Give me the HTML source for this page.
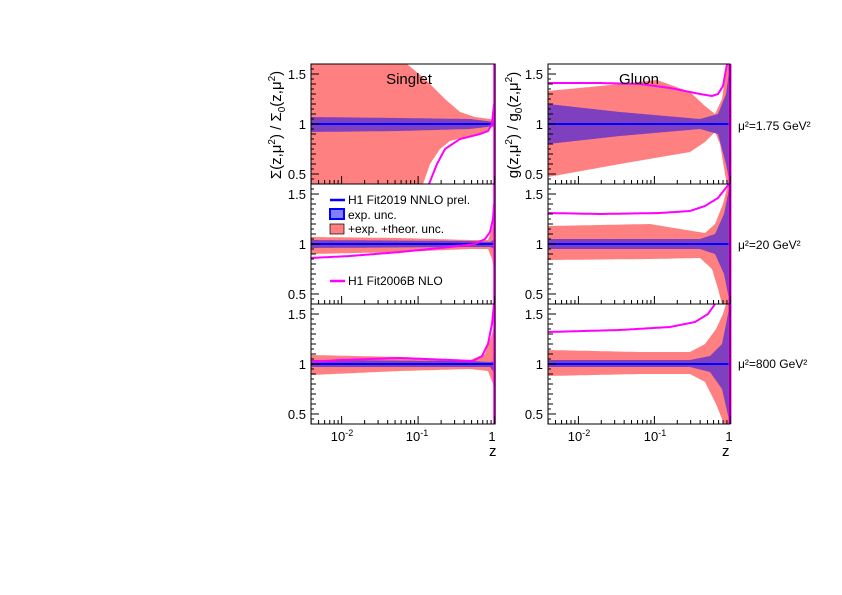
<!DOCTYPE html>
<html><head><meta charset="utf-8"><style>
body{margin:0;background:#fff}
svg{display:block;font-family:"Liberation Sans",sans-serif}
</style></head><body>
<svg id="s" width="842" height="595" xmlns="http://www.w3.org/2000/svg"></svg>
<script>
const S=document.getElementById('s');
let h='';
const RED='#ff8080',BLU='#7f40c0';
function Y(top,v){v=Math.max(0.4,Math.min(1.6,v));return top+(1.6-v)*100;}
function interp(pts,x){ if(x<=pts[0][0])return pts[0][1]; for(let i=1;i<pts.length;i++){if(x<=pts[i][0]){const a=pts[i-1],b=pts[i];return a[1]+(b[1]-a[1])*(x-a[0])/(b[0]-a[0]);}} return pts[pts.length-1][1];}
function band(top,x0,x1,up,lo,col){
  let p=[];for(let x=x0;x<=x1;x+=1)p.push(x+','+Y(top,interp(up,x)).toFixed(1));
  for(let x=x1;x>=x0;x-=1)p.push(x+','+Y(top,interp(lo,x)).toFixed(1));
  h+=`<polygon points="${p.join(' ')}" fill="${col}"/>`;
}
function line(top,pts,col,w,clip){
  let p=[];const x0=pts[0][0],x1=pts[pts.length-1][0];
  for(let x=x0;x<=x1;x+=1)p.push(x+','+Y(top,interp(pts,x)).toFixed(1));
  h+=`<polyline points="${p.join(' ')}" fill="none" stroke="${col}" stroke-width="${w}"/>`;
}
function frame(top,x0,x1,dec){
  h+=`<rect x="${x0}" y="${top}" width="${x1-x0}" height="120" fill="none" stroke="#000" stroke-width="1"/>`;
  // y ticks
  for(let v=0.4;v<=1.601;v+=0.05){const y=Y(top,v);const major=Math.abs((v*10)%5)<0.01||Math.abs((v*10)%5-5)<0.01;const L=Math.abs(Math.round(v*10)-v*10)<0.01?(major?8:5):3;h+=`<line x1="${x0}" x2="${x0+L}" y1="${y}" y2="${y}" stroke="#000"/>`;}
  // x ticks (log)
  for(let d=-3;d<=0;d++)for(let k=1;k<=9;k++){const u=d+Math.log10(k);if(u<-2.4||u>0)continue;const x=x0+(u+2.4)*dec;const L=k==1?8:4;h+=`<line x1="${x}" x2="${x}" y1="${top+120}" y2="${top+120-L}" stroke="#000"/>`;}
}
function ylabels(top,x){
  [[1.5,'1.5'],[1,'1'],[0.5,'0.5']].forEach(([v,t])=>{h+=`<text x="${x}" y="${Y(top,v)+5}" font-size="13" text-anchor="end">${t}</text>`;});
}
const tops=[64,184,304];
const LX0=311,LX1=495,RX0=548,RX1=730;
// ---- Singlet
// top
band(64,LX0,LX1,[[311,1.6],[407,1.6],[425,1.45],[445,1.25],[460,1.12],[475,1.07],[490,1.05],[495,1.04]],[[311,0.4],[423,0.4],[430,0.6],[440,0.75],[450,0.83],[470,0.88],[485,0.92],[492,0.97],[495,0.97]],RED);
band(64,LX0,LX1,[[311,1.07],[400,1.06],[470,1.05],[495,1.02]],[[311,0.92],[400,0.93],[470,0.95],[495,0.98]],BLU);
line(64,[[311,1],[495,1]],'#0000ff',2);
line(64,[[429,0.4],[437,0.6],[445,0.75],[460,0.85],[480,0.9],[488,0.93],[492,1.0],[494,1.2]],'#ff00ff',2);
// mid
band(184,LX0,LX1,[[311,1.07],[400,1.06],[470,1.04],[488,1.04],[492,1.15],[495,1.3]],[[311,0.9],[400,0.92],[470,0.95],[488,0.95],[492,0.85],[495,0.7]],RED);
band(184,LX0,LX1,[[311,1.04],[470,1.03],[490,1.02],[495,1.05]],[[311,0.96],[470,0.97],[490,0.97],[495,0.95]],BLU);
line(184,[[311,1],[495,1]],'#0000ff',2);
line(184,[[311,0.86],[350,0.88],[400,0.92],[450,0.97],[475,1.0],[485,1.05],[490,1.12],[493,1.25],[494,1.4]],'#ff00ff',2);
// bottom
band(304,LX0,LX1,[[311,1.09],[400,1.07],[470,1.04],[485,1.1],[492,1.3],[495,1.4]],[[311,0.89],[400,0.93],[470,0.95],[488,0.93],[493,0.8],[495,0.7]],RED);
band(304,LX0,LX1,[[311,1.04],[470,1.03],[490,1.02],[495,1.03]],[[311,0.97],[470,0.97],[490,0.97],[495,0.9]],BLU);
line(304,[[311,1],[495,1]],'#0000ff',2);
line(304,[[311,1.02],[340,1.04],[400,1.06],[450,1.04],[473,1.03],[482,1.08],[488,1.2],[492,1.4],[494,1.6]],'#ff00ff',2);
// ---- Gluon
band(64,RX0,RX1,[[548,1.33],[600,1.38],[657,1.44],[690,1.32],[705,1.18],[715,1.1],[722,1.25],[727,1.6],[730,1.6]],[[548,0.47],[620,0.6],[690,0.72],[705,0.82],[715,0.92],[720,0.8],[725,0.5],[727,0.4],[730,0.4]],RED);
band(64,RX0,RX1,[[548,1.2],[620,1.12],[700,1.05],[718,1.1],[726,1.3],[730,1.6]],[[548,0.8],[620,0.88],[700,0.95],[718,0.9],[726,0.6],[730,0.4]],BLU);
line(64,[[548,1],[730,1]],'#0000ff',2);
line(64,[[548,1.41],[600,1.41],[640,1.4],[670,1.36],[700,1.3],[712,1.28],[718,1.3],[723,1.38],[727,1.6]],'#ff00ff',2);
// mid
band(184,RX0,RX1,[[548,1.18],[650,1.2],[680,1.15],[705,1.11],[715,1.2],[723,1.4],[728,1.6],[730,1.6]],[[548,0.84],[650,0.85],[700,0.86],[712,0.75],[718,0.55],[722,0.4],[730,0.4]],RED);
band(184,RX0,RX1,[[548,1.05],[700,1.05],[715,1.1],[724,1.3],[730,1.6]],[[548,0.95],[700,0.95],[715,0.9],[724,0.7],[730,0.4]],BLU);
line(184,[[548,1],[730,1]],'#0000ff',2);
line(184,[[548,1.31],[600,1.3],[660,1.31],[690,1.33],[705,1.38],[718,1.46],[725,1.55],[729,1.6]],'#ff00ff',2);
// bottom
band(304,RX0,RX1,[[548,1.14],[640,1.12],[690,1.12],[705,1.2],[716,1.35],[723,1.5],[726,1.6],[730,1.6]],[[548,0.88],[640,0.9],[690,0.9],[705,0.82],[716,0.6],[722,0.45],[724,0.4],[730,0.4]],RED);
band(304,RX0,RX1,[[548,1.04],[690,1.04],[710,1.08],[722,1.2],[730,1.6]],[[548,0.97],[690,0.97],[710,0.92],[722,0.75],[730,0.4]],BLU);
line(304,[[548,1],[730,1]],'#0000ff',2);
line(304,[[548,1.32],[620,1.34],[670,1.37],[695,1.42],[708,1.5],[715,1.6]],'#ff00ff',2);
// magenta verticals at z=1
h+=`<line x1="494.5" x2="494.5" y1="64" y2="424" stroke="#ff00ff" stroke-width="2.5"/>`;
h+=`<line x1="730" x2="730" y1="64" y2="424" stroke="#ff00ff" stroke-width="3"/>`;
tops.forEach(t=>{frame(t,LX0,LX1,76.5);frame(t,RX0,RX1,76);ylabels(t,306);ylabels(t,543);});
// x labels
[[342,'10<tspan dy="-5" font-size="9">-2</tspan>'],[417,'10<tspan dy="-5" font-size="9">-1</tspan>'],[492,'1']].forEach(([x,t])=>h+=`<text x="${x}" y="441" font-size="13" text-anchor="middle">${t}</text>`);
[[579,'10<tspan dy="-5" font-size="9">-2</tspan>'],[655,'10<tspan dy="-5" font-size="9">-1</tspan>'],[729,'1']].forEach(([x,t])=>h+=`<text x="${x}" y="441" font-size="13" text-anchor="middle">${t}</text>`);
h+=`<text x="489" y="456" font-size="15">z</text><text x="722" y="456" font-size="15">z</text>`;
// titles
h+=`<text x="409" y="84" font-size="15" text-anchor="middle">Singlet</text><text x="639" y="84" font-size="15" text-anchor="middle">Gluon</text>`;
// y axis titles
h+=`<text transform="translate(281,125) rotate(-90)" font-size="15" text-anchor="middle">Σ(z,μ<tspan dy="-6" font-size="10">2</tspan><tspan dy="6">) / Σ</tspan><tspan dy="4" font-size="10">0</tspan><tspan dy="-4">(z,μ</tspan><tspan dy="-6" font-size="10">2</tspan><tspan dy="6">)</tspan></text>`;
h+=`<text transform="translate(518,125) rotate(-90)" font-size="15" text-anchor="middle">g(z,μ<tspan dy="-6" font-size="10">2</tspan><tspan dy="6">) / g</tspan><tspan dy="4" font-size="10">0</tspan><tspan dy="-4">(z,μ</tspan><tspan dy="-6" font-size="10">2</tspan><tspan dy="6">)</tspan></text>`;
// mu labels
[[130,'1.75'],[249,'20'],[368,'800']].forEach(([y,t])=>h+=`<text x="738" y="${y}" font-size="12">μ²=${t} GeV²</text>`);
// legend
h+=`<line x1="330" x2="345" y1="200" y2="200" stroke="#0000ff" stroke-width="2.5"/><text x="348" y="204" font-size="12">H1 Fit2019 NNLO prel.</text>`;
h+=`<rect x="330" y="209" width="14" height="10" fill="#8080ff" stroke="#0000ff" stroke-width="2"/><text x="348" y="219" font-size="12">exp. unc.</text>`;
h+=`<rect x="330" y="224" width="14" height="10" fill="${RED}" stroke="#000" stroke-width="0.7"/><text x="348" y="233" font-size="12">+exp. +theor. unc.</text>`;
h+=`<line x1="330" x2="345" y1="281" y2="281" stroke="#ff00ff" stroke-width="2.5"/><text x="348" y="285" font-size="12">H1 Fit2006B NLO</text>`;
S.innerHTML=h;
</script>
</body></html>
